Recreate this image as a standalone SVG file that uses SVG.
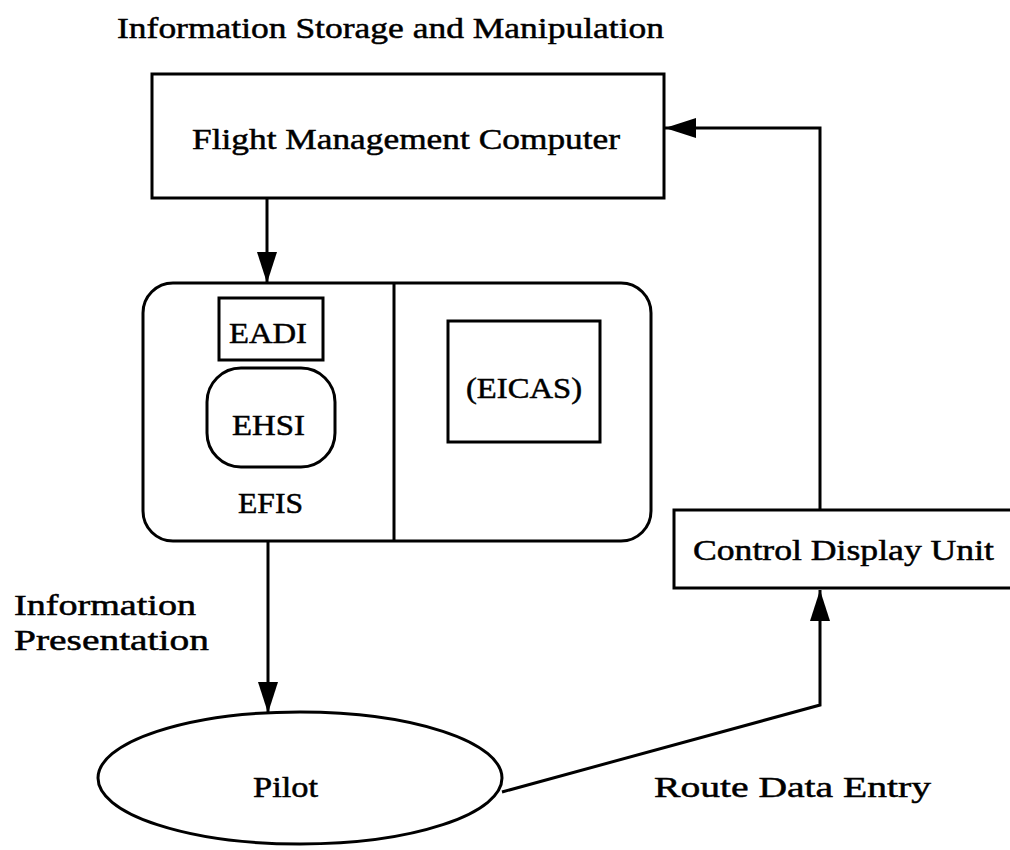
<svg xmlns="http://www.w3.org/2000/svg" width="1010" height="850" viewBox="0 0 1010 850">
  <style>
    .box { fill: none; stroke: #000; stroke-width: 3; }
    .wire { fill: none; stroke: #000; stroke-width: 3; stroke-linejoin: miter; }
    .lbl { font-family: "Liberation Serif", "Times New Roman", serif; font-size: 30px; fill: #000; stroke: #000; stroke-width: 0.5; }
  </style>
  <defs>
    <marker id="arrow" viewBox="0 0 31 20" refX="31" refY="10" markerWidth="31" markerHeight="20" markerUnits="userSpaceOnUse" orient="auto">
      <path d="M0,0 L31,10 L0,20 z" fill="#000"/>
    </marker>
  </defs>
  <rect width="1010" height="850" fill="#fff"/>

  <text class="lbl" x="117" y="38" textLength="547" lengthAdjust="spacingAndGlyphs">Information Storage and Manipulation</text>

  <g id="fmc">
    <rect class="box" x="152" y="74" width="512" height="124"/>
    <text class="lbl" x="192" y="149" font-size="31" textLength="428" lengthAdjust="spacingAndGlyphs">Flight Management Computer</text>
  </g>

  <g id="efis-panel">
    <rect class="box" x="143" y="283" width="508" height="258" rx="30" ry="30"/>
    <line class="box" x1="394" y1="283" x2="394" y2="541"/>
    <text class="lbl" x="238" y="513" textLength="65" lengthAdjust="spacingAndGlyphs">EFIS</text>
  </g>

  <g id="eadi">
    <rect class="box" x="219" y="298" width="104" height="62"/>
    <text class="lbl" x="229" y="343" textLength="78" lengthAdjust="spacingAndGlyphs">EADI</text>
  </g>

  <g id="ehsi">
    <rect class="box" x="207" y="368" width="128" height="99" rx="34" ry="34"/>
    <text class="lbl" x="232" y="435" textLength="73" lengthAdjust="spacingAndGlyphs">EHSI</text>
  </g>

  <g id="eicas">
    <rect class="box" x="448" y="321" width="152" height="121"/>
    <text class="lbl" x="466" y="398" textLength="116" lengthAdjust="spacingAndGlyphs">(EICAS)</text>
  </g>

  <g id="cdu">
    <rect class="box" x="674" y="510" width="345" height="78"/>
    <text class="lbl" x="693" y="560" textLength="301" lengthAdjust="spacingAndGlyphs">Control Display Unit</text>
  </g>

  <g id="pilot">
    <ellipse class="box" cx="300" cy="778" rx="202" ry="66"/>
    <text class="lbl" x="253" y="797" textLength="65" lengthAdjust="spacingAndGlyphs">Pilot</text>
  </g>

  <g id="connectors">
    <line class="wire" x1="267" y1="198" x2="267" y2="283" marker-end="url(#arrow)"/>
    <line class="wire" x1="268" y1="541" x2="268" y2="713" marker-end="url(#arrow)"/>
    <polyline class="wire" points="502,792 820,705 820,590" marker-end="url(#arrow)" stroke-width="3.5"/>
    <polyline class="wire" points="820,510 820,128 665,128" marker-end="url(#arrow)"/>
  </g>

  <g id="connector-labels">
    <text class="lbl" x="14" y="615" textLength="182" lengthAdjust="spacingAndGlyphs">Information</text>
    <text class="lbl" x="14" y="650" textLength="195" lengthAdjust="spacingAndGlyphs">Presentation</text>
    <text class="lbl" x="654" y="797" textLength="277" lengthAdjust="spacingAndGlyphs">Route Data Entry</text>
  </g>
</svg>
